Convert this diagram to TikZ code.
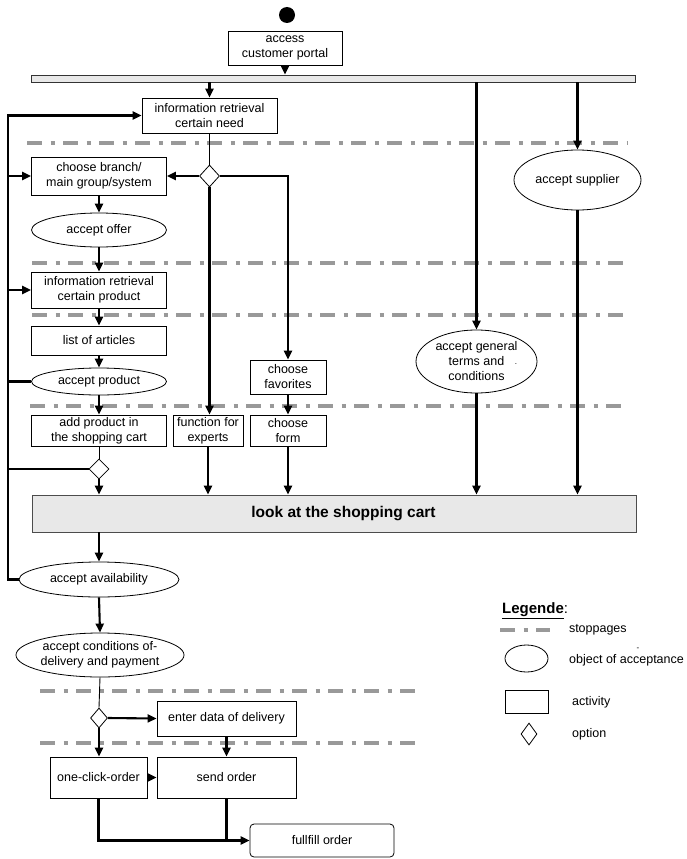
\documentclass[tikz,border=0pt]{standalone}
\usepackage{fontspec}
\setmainfont{Liberation Sans}
\usetikzlibrary{shapes.geometric,arrows.meta}

\begin{document}
\begin{tikzpicture}[x=1pt,y=-1pt,
	every node/.style={align=center,inner sep=0pt,font=\fontsize{12.5}{15}\selectfont},
	activity/.style={draw,rectangle,line width=0.8pt},
	accept/.style={draw,ellipse,line width=0.8pt},
	option/.style={draw,diamond,fill=white,line width=0.8pt},
	stopline/.style={draw=black!40,line width=4.5pt,dash pattern=on 15pt off 8.5pt on 4pt off 8.5pt},
	flow/.style={line width=2.1pt,-{Triangle[length=9pt,width=8pt]}},
	bold/.style={line width=2.1pt},
	link/.style={line width=0.9pt}]
	\useasboundingbox (0,0) rectangle (687,859);
	% stoppages
	\foreach \y/\a/\b in {143/27/627, 263/32/628, 315/32/628, 406/30/628, 691/40/417, 743/40/417}
		\draw[stopline] (\a,\y) -- (\b,\y);
	
	\node[circle,fill,minimum size=16pt] (start) at (287,15) {};
	\node[activity,minimum width=114pt,minimum height=34pt] (portal) at (285,48) {access\\customer portal};
	\node[draw=black!80,fill=black!9,line width=0.8pt,minimum width=604pt,minimum height=7pt] (bar) at (333,78.5) {};
	\node[activity,minimum width=135pt,minimum height=35pt] (need) at (209.5,115.5) {information retrieval\\certain need};
	\node[option,minimum width=20pt,minimum height=22pt] (opt1) at (209.5,176) {};
	\node[activity,minimum width=135pt,minimum height=38pt] (branch) at (99,176) {choose branch/\\main group/system};
	\node[accept,minimum width=135pt,minimum height=34pt] (offer) at (99,230) {accept offer};
	\node[activity,minimum width=135pt,minimum height=36pt] (pinfo) at (99,290) {information retrieval\\certain product};
	\node[activity,minimum width=135pt,minimum height=29pt] (articles) at (99,340.5) {list of articles};
	\node[accept,minimum width=135pt,minimum height=27pt] (prodacc) at (99,381.5) {accept product};
	\node[activity,minimum width=135pt,minimum height=31pt] (addcart) at (99,430.5) {add product in\\the shopping cart};
	\node[activity,minimum width=70pt,minimum height=31pt] (experts) at (208,430.5) {function for\\experts};
	\node[activity,minimum width=76pt,minimum height=34pt] (favorites) at (288,377) {choose\\favorites};
	\node[activity,minimum width=76pt,minimum height=31pt] (form) at (288,430.5) {choose\\form};
	\node[accept,minimum width=127pt,minimum height=60pt] (supplier) at (577.5,180) {accept supplier};
	\node[accept,minimum width=121pt,minimum height=63pt] (terms) at (476.5,361.5) {accept general\\terms and\\conditions};
	\node[font=\fontsize{8}{8}\selectfont] (dotmark) at (516,364) {.};
	\node[option,minimum width=20pt,minimum height=20pt] (opt2) at (99,469) {};
	\node[draw=black!70,fill=black!9,line width=0.8pt,minimum width=604pt,minimum height=37pt,font=\fontsize{15.5}{18}\selectfont\bfseries] (cart) at (334,513.5) {\hspace*{19pt}look at the shopping cart};
	\node[accept,minimum width=160pt,minimum height=35pt] (avail) at (99,579.5) {accept availability};
	\node[accept,minimum width=160pt,minimum height=44pt] (cond) at (100,655) {accept conditions of-\\delivery and payment};
	\node[option,minimum width=17pt,minimum height=20pt] (opt3) at (99,718) {};
	\node[activity,minimum width=139pt,minimum height=35pt] (delivery) at (226.5,718.5) {enter data of delivery};
	\node[activity,minimum width=97pt,minimum height=41pt] (oneclick) at (98.5,777.5) {one-click-order};
	\node[activity,minimum width=139pt,minimum height=41pt] (send) at (226.5,777.5) {send order};
	\node[activity,rounded corners=4pt,minimum width=144pt,minimum height=33pt] (fulfill) at (322,840.5) {fullfill order};
	\coordinate (back) at (8,579.5);
	
	\draw[flow] (portal.south) -- (portal.south |- bar.north);
	\draw[flow] (need.north |- bar.south) -- (need.north);
	\draw[flow] (terms.north |- bar.south) -- (terms.north);
	\draw[flow] (supplier.north |- bar.south) -- (supplier.north);
	\draw[link] (need.south) -- (opt1.north);
	\draw[flow] (opt1.west) -- (branch.east);
	\draw[flow] (opt1.east) -| (favorites.north);
	\draw[flow] (opt1.south) -- (opt1.south |- experts.north);
	\draw[flow] (branch.south) -- (offer.north);
	\draw[flow] (offer.south) -- (pinfo.north);
	\draw[flow] (pinfo.south) -- (articles.north);
	\draw[flow] (articles.south) -- (prodacc.north);
	\draw[flow] (prodacc.south) -- (addcart.north);
	\draw[flow] (favorites.south) -- (form.north);
	\draw[link] (addcart.south) -- (opt2.north);
	\draw[flow] (opt2.south) -- (opt2.south |- cart.north);
	\foreach \n in {experts,form,terms,supplier}
		\draw[flow] (\n.south) -- (\n.south |- cart.north);
	% way back
	\draw[flow] (avail.west) -- (back) |- (need.west);
	\draw[flow] (back |- branch.west) -- (branch.west);
	\draw[flow] (back |- pinfo.west) -- (pinfo.west);
	\draw[bold] (prodacc.west) -- (prodacc.west -| back);
	\draw[bold] (opt2.west) -- (opt2.west -| back);
	
	\draw[flow] (avail.north |- cart.south) -- (avail.north);
	\draw[flow] (avail.south) -- (cond.north);
	\draw[link] (cond.south) -- (opt3.north);
	\draw[flow] (opt3.east) -- (delivery.west);
	\draw[flow] (opt3.south) -- (opt3.south |- oneclick.north);
	\draw[flow] (delivery.south) -- (send.north);
	\draw[flow] (oneclick.east) -- (send.west);
	\draw[flow] (oneclick.south) |- (fulfill.west);
	\draw[bold] (send.south) -- (send.south |- fulfill.west);
	
	% Legende
	\node[anchor=west,font=\fontsize{15}{15}\selectfont] (legend) at (502,611) {\underline{\textbf{Legende}}:};
	\draw[stopline] (500,630) -- (550,630) node[anchor=west,xshift=19pt,line width=0pt] (lstop) {stoppages};
	\node[accept,minimum width=43pt,minimum height=27pt] (lacc) at (526.5,658.5) {};
	\node[anchor=west] (laccT) at (569,660) {object of acceptance};
	\node[font=\fontsize{8}{8}\selectfont] (dashmark) at (638,649) {-};
	\node[activity,minimum width=43pt,minimum height=23pt] (lact) at (526.5,701.5) {};
	\node[anchor=west] (lactT) at (572,702) {activity};
	\node[option,minimum width=16pt,minimum height=22pt] (lopt) at (529,734) {};
	\node[anchor=west] (loptT) at (572,734) {option};
\end{tikzpicture}
\end{document}
